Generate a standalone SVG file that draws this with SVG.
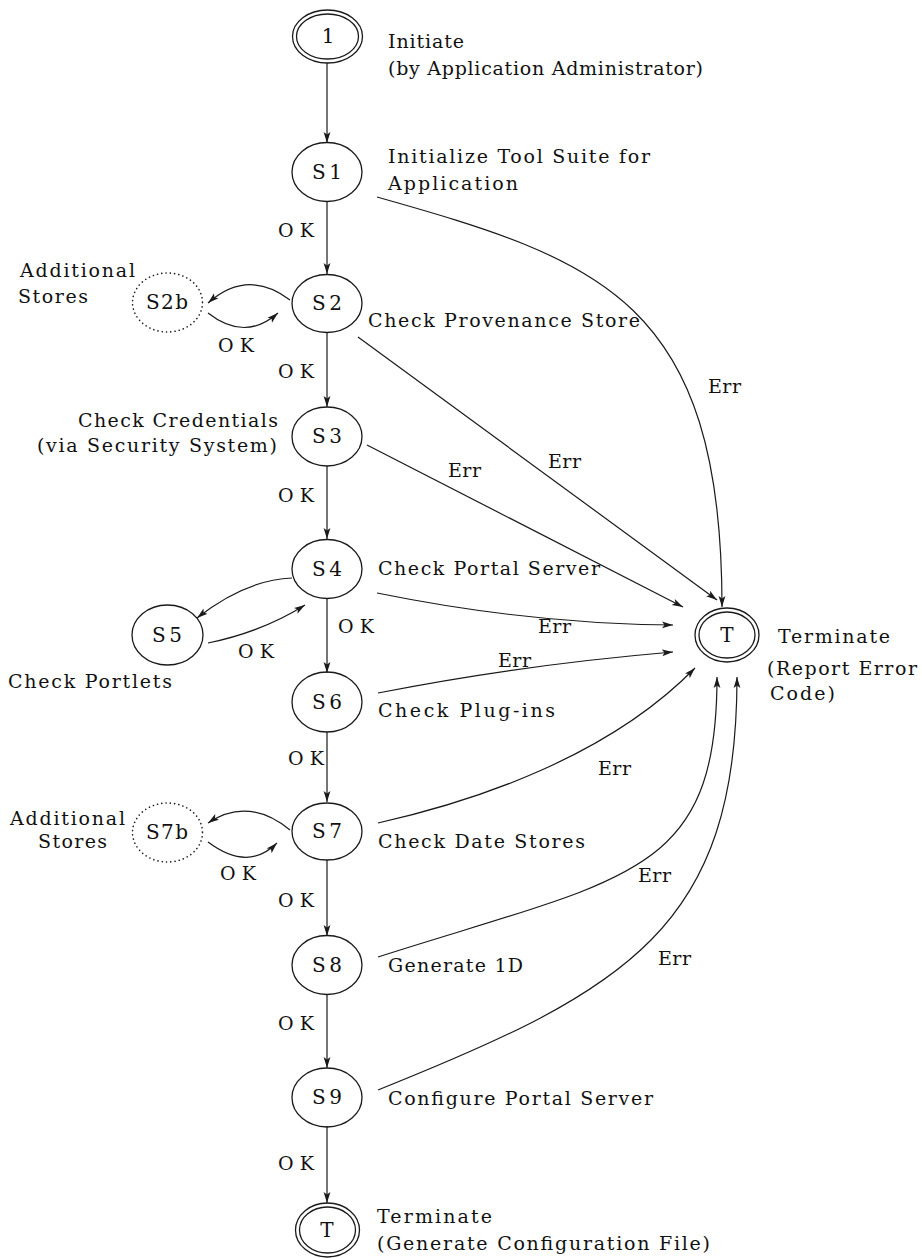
<svg xmlns="http://www.w3.org/2000/svg" width="922" height="1258" viewBox="0 0 922 1258">
  <defs>
    <marker id="ah" markerWidth="12" markerHeight="8" refX="11" refY="4" orient="auto" markerUnits="userSpaceOnUse">
      <path d="M0,0.6 L11,4 L0,7.4 L2.5,4 Z" fill="#1a1a1a"/>
    </marker>
  </defs>
  <style>
    .bg { fill: #ffffff; }
    .node { fill: none; stroke: #1a1a1a; stroke-width: 1.3; }
    .dot { fill: none; stroke: #1a1a1a; stroke-width: 1.6; stroke-dasharray: 0.1 4.2; stroke-linecap: round; }
    .edge { fill: none; stroke: #1a1a1a; stroke-width: 1.2; marker-end: url(#ah); }
    text { font-family: "DejaVu Serif", "Liberation Serif", serif; font-size: 19px; fill: #111; }
    .id { font-size: 20px; text-anchor: middle; }
  </style>
  <rect class="bg" x="0" y="0" width="922" height="1258"/>

  <!-- connectors -->
  <g id="connectors">
    <!-- main OK chain -->
    <path class="edge" d="M327,63 L327,143"/>
    <path class="edge" d="M327,202 L327,274"/>
    <path class="edge" d="M327,333 L327,407"/>
    <path class="edge" d="M327,466 L327,539"/>
    <path class="edge" d="M327,598 L327,673"/>
    <path class="edge" d="M327,732 L327,802"/>
    <path class="edge" d="M327,860 L327,936"/>
    <path class="edge" d="M327,994 L327,1068"/>
    <path class="edge" d="M327,1126 L327,1203"/>
    <!-- side loops -->
    <path class="edge" d="M290,300 Q248,268 208,303"/>
    <path class="edge" d="M208,313 Q245,342 278,313"/>
    <path class="edge" d="M292,578 Q245,580 197,618"/>
    <path class="edge" d="M208,643 Q262,632 305,605"/>
    <path class="edge" d="M290,830 Q248,796 208,823"/>
    <path class="edge" d="M208,842 Q248,872 277,843"/>
    <!-- error exits to Terminate -->
    <path class="edge" d="M377,197 C600,260 722,300 722,607"/>
    <path class="edge" d="M358,337 L717,600"/>
    <path class="edge" d="M367,445 L683,607"/>
    <path class="edge" d="M377,593 Q530,624 673,625"/>
    <path class="edge" d="M378,693 Q520,665 673,652"/>
    <path class="edge" d="M378,823 C480,800 610,755 695,668"/>
    <path class="edge" d="M378,957 C628,877 717,877 717,677"/>
    <path class="edge" d="M378,1090 C628,990 737,927 737,677"/>

    <!-- edge labels -->
    <text x="278" y="237" textLength="36">OK</text>
    <text x="218" y="352" textLength="36">OK</text>
    <text x="278" y="378" textLength="36">OK</text>
    <text x="278" y="502" textLength="36">OK</text>
    <text x="238" y="658" textLength="36">OK</text>
    <text x="338" y="633" textLength="36">OK</text>
    <text x="288" y="765" textLength="36">OK</text>
    <text x="220" y="880" textLength="36">OK</text>
    <text x="278" y="907" textLength="36">OK</text>
    <text x="278" y="1030" textLength="36">OK</text>
    <text x="278" y="1170" textLength="36">OK</text>

    <text x="708" y="393" textLength="33">Err</text>
    <text x="548" y="468" textLength="33">Err</text>
    <text x="448" y="477" textLength="33">Err</text>
    <text x="538" y="633" textLength="33">Err</text>
    <text x="498" y="667" textLength="33">Err</text>
    <text x="598" y="775" textLength="33">Err</text>
    <text x="638" y="882" textLength="33">Err</text>
    <text x="658" y="965" textLength="33">Err</text>
  </g>

  <!-- states -->
  <g id="start">
    <ellipse class="node" cx="327.5" cy="36.5" rx="35" ry="26.5"/>
    <ellipse class="node" cx="327.5" cy="36.5" rx="31" ry="22.5"/>
    <text class="id" x="328" y="43">1</text>
    <text x="388" y="48" textLength="76">Initiate</text>
    <text x="388" y="75" textLength="315">(by Application Administrator)</text>
  </g>

  <g id="s1">
    <ellipse class="node" cx="327" cy="172" rx="35" ry="29.5"/>
    <text class="id" x="327" y="179" textLength="30">S1</text>
    <text x="388" y="163" textLength="262">Initialize Tool Suite for</text>
    <text x="388" y="190" textLength="130">Application</text>
  </g>

  <g id="s2">
    <ellipse class="node" cx="327" cy="303.5" rx="35" ry="29"/>
    <text class="id" x="327" y="310" textLength="30">S2</text>
    <text x="368" y="327" textLength="272">Check Provenance Store</text>
  </g>

  <g id="s2b">
    <ellipse class="dot" cx="167.5" cy="302.5" rx="35" ry="29.5"/>
    <text class="id" x="167" y="309" textLength="42">S2b</text>
    <text x="20" y="277" textLength="115">Additional</text>
    <text x="18" y="303" textLength="70">Stores</text>
  </g>

  <g id="s3">
    <ellipse class="node" cx="327" cy="436.5" rx="35" ry="29.5"/>
    <text class="id" x="327" y="443" textLength="30">S3</text>
    <text x="78" y="427" textLength="200">Check Credentials</text>
    <text x="37" y="452" textLength="240">(via Security System)</text>
  </g>

  <g id="s4">
    <ellipse class="node" cx="327" cy="569" rx="35" ry="29.5"/>
    <text class="id" x="327" y="576" textLength="30">S4</text>
    <text x="378" y="575" textLength="222">Check Portal Server</text>
  </g>

  <g id="s5">
    <ellipse class="node" cx="167.5" cy="635" rx="35.5" ry="30"/>
    <text class="id" x="167" y="642" textLength="30">S5</text>
    <text x="8" y="688" textLength="164">Check Portlets</text>
  </g>

  <g id="s6">
    <ellipse class="node" cx="327" cy="702" rx="35" ry="30"/>
    <text class="id" x="327" y="709" textLength="30">S6</text>
    <text x="378" y="717" textLength="177">Check Plug-ins</text>
  </g>

  <g id="s7">
    <ellipse class="node" cx="327" cy="831.5" rx="35" ry="28.5"/>
    <text class="id" x="327" y="838" textLength="30">S7</text>
    <text x="378" y="848" textLength="207">Check Date Stores</text>
  </g>

  <g id="s7b">
    <ellipse class="dot" cx="167.5" cy="832.5" rx="35" ry="29.5"/>
    <text class="id" x="167" y="839" textLength="42">S7b</text>
    <text x="10" y="825" textLength="115">Additional</text>
    <text x="38" y="848" textLength="69">Stores</text>
  </g>

  <g id="s8">
    <ellipse class="node" cx="327" cy="965" rx="35" ry="29.5"/>
    <text class="id" x="327" y="972" textLength="30">S8</text>
    <text x="388" y="972" textLength="135">Generate 1D</text>
  </g>

  <g id="s9">
    <ellipse class="node" cx="327" cy="1097.5" rx="35" ry="29.5"/>
    <text class="id" x="327" y="1104" textLength="30">S9</text>
    <text x="388" y="1105" textLength="265">Configure Portal Server</text>
  </g>

  <g id="terminate-error">
    <ellipse class="node" cx="727" cy="635" rx="32" ry="27"/>
    <ellipse class="node" cx="727" cy="635" rx="28" ry="23"/>
    <text class="id" x="727" y="642">T</text>
    <text x="778" y="643" textLength="112">Terminate</text>
    <text x="767" y="675" textLength="150">(Report Error</text>
    <text x="770" y="700" textLength="65">Code)</text>
  </g>

  <g id="terminate-config">
    <ellipse class="node" cx="327.5" cy="1230" rx="32" ry="27"/>
    <ellipse class="node" cx="327.5" cy="1230" rx="28" ry="23"/>
    <text class="id" x="327" y="1237">T</text>
    <text x="377" y="1223" textLength="115">Terminate</text>
    <text x="377" y="1250" textLength="333">(Generate Configuration File)</text>
  </g>
</svg>
